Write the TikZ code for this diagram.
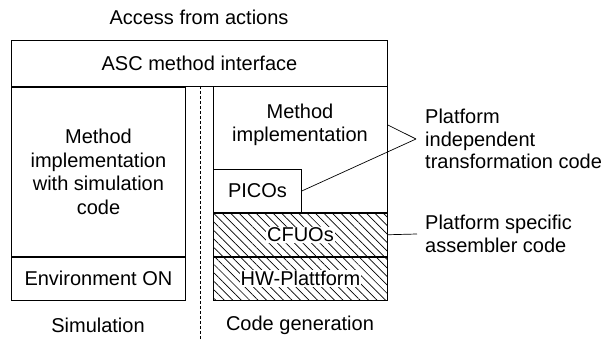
\documentclass[tikz,border=0pt]{standalone}
\usepackage{fontspec}
\setmainfont{Liberation Sans}
\usetikzlibrary{positioning,patterns.meta}

\begin{document}
\begin{tikzpicture}[x=1pt,y=1pt, box/.style={rectangle, draw, line width=0.9pt,
    inner sep=0pt, align=center, font=\fontsize{20}{23.5}\selectfont},
    hatch/.style={box, pattern={Lines[angle=-45,distance=6pt,line width=0.7pt]}},
    txt/.style={align=center, inner sep=0pt, font=\fontsize{20}{23.5}\selectfont},
    note/.style={align=left, anchor=west, inner ysep=0pt, font=\fontsize{20}{22.5}\selectfont}]
  \useasboundingbox (0,0) rectangle (606,-339);
  \node[txt] (access) at (199,-17) {Access from actions};
  \node[box, minimum width=376pt, minimum height=46pt, anchor=north west] (asc) at (11,-40) {ASC method interface};
  % simulation side
  \node[box, minimum width=174pt, minimum height=169pt, below right=0pt and 0pt of asc.south west] (simimpl)
	{Method\\implementation\\with simulation\\code};
  \node[box, minimum width=174pt, minimum height=43pt, below=0pt of simimpl] (env) {Environment ON};
  \node[txt] (sim) at (98,-325) {Simulation};
  % code generation side
  \node[box, minimum width=174pt, minimum height=126pt, anchor=north west] (codeimpl) at (213,-86) {};
  \node[txt] (methimpl) at (300,-125) {Method\\implementation};
  \node[box, minimum width=88pt, minimum height=43pt, anchor=south west] (picos) at (codeimpl.south west) {PICOs};
  \node[hatch, minimum width=174pt, minimum height=43pt, below=0pt of codeimpl] (cfuo) {};
  \node[hatch, minimum width=174pt, minimum height=43pt, below=0pt of cfuo] (hw) {};
  \node[txt, fill=white, inner sep=1pt] (cfuotxt) at (cfuo) {CFUOs};
  \node[txt, fill=white, inner sep=1pt] (hwtxt) at (hw) {HW-Plattform};
  \node[txt] (codegen) at (300,-325) {Code generation};
  \coordinate (dtop) at (200,-86);
  \coordinate (dbot) at (200,-339);
  \draw[dash pattern=on 3pt off 2pt, line width=0.7pt] (dtop) -- (dbot);
  % annotations
  \node[note, inner xsep=9pt] (indep) at (416,-139) {Platform\\independent\\transformation code};
  \node[note, inner xsep=8pt] (specific) at (417,-234) {Platform specific\\assembler code};
  \draw[line width=0.7pt] (methimpl.east -| codeimpl.east) -- (indep.west);
  \draw[line width=0.7pt] (picos.east) -- (indep.west);
  \draw[line width=0.7pt] (cfuo.east) -- (specific.west);
\end{tikzpicture}
\end{document}
